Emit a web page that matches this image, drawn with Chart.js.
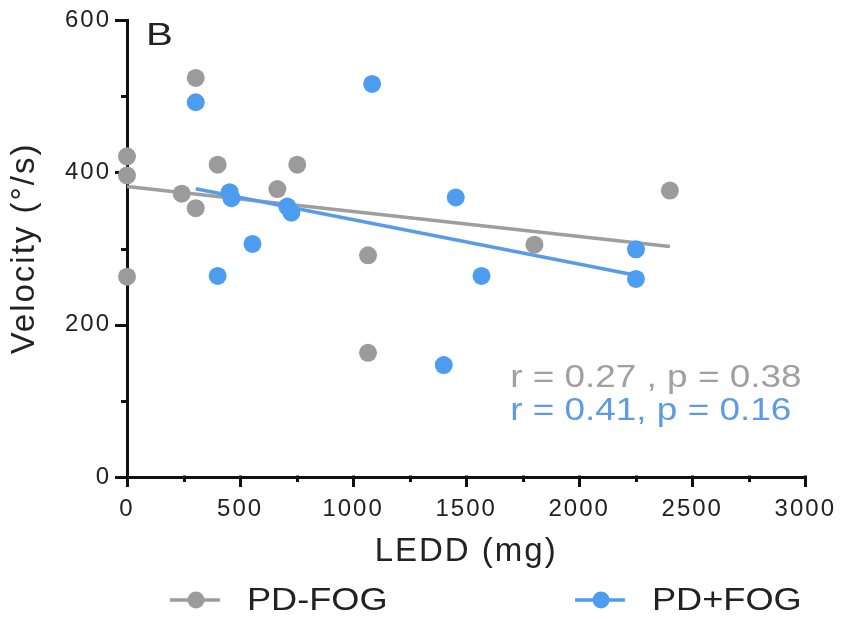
<!DOCTYPE html>
<html>
<head>
<meta charset="utf-8">
<script src="https://cdn.jsdelivr.net/npm/chart.js@4.4.0/dist/chart.umd.min.js"></script>
<style>
    html, body { margin: 0; padding: 0; background: #fff; }
</style>
</head>
<body>
<canvas id="myChart" width="844" height="619"></canvas>
<script>
// PD-FOG group: LEDD (mg) and velocity (°/s)
const pdNoFogLedd = [0, 0, 0, 242, 304, 304, 401, 665, 753, 1066, 1066, 1802, 2401];
const pdNoFogVel = [421, 396, 263, 372, 353, 524, 410, 378, 410, 291, 163, 305, 376];

// PD+FOG group
const pdFogLedd = [304, 1084, 454, 462, 555, 709, 727, 401, 1401, 1454, 1568, 2251, 2251];
const pdFogVel = [492, 516, 374, 366, 306, 355, 347, 264, 147, 367, 264, 299, 260];

// axis ticks (labelled ones), minor ticks sit halfway between
const xTickLabels = [0, 500, 1000, 1500, 2000, 2500, 3000];
const yTickLabels = [0, 200, 400, 600];

const seriesNames = ['PD-FOG', 'PD+FOG'];
const statTexts = ['r = 0.27 , p = 0.38', 'r = 0.41, p = 0.16'];

const GRAY = '#9b9b9b';
const BLUE = '#4c9df0';
const INK = '#222';
const FONT = "'Liberation Sans', Arial, sans-serif";

// least squares line over the range of the data
function fitLine(xs, ys) {
    const n = xs.length;
    const mx = xs.reduce((a, b) => a + b, 0) / n;
    const my = ys.reduce((a, b) => a + b, 0) / n;
    let sxy = 0, sxx = 0;
    for (let i = 0; i < n; i++) {
        sxy += (xs[i] - mx) * (ys[i] - my);
        sxx += (xs[i] - mx) * (xs[i] - mx);
    }
    const slope = sxy / sxx;
    const b = my - slope * mx;
    const x0 = Math.min(...xs), x1 = Math.max(...xs);
    return [{ x: x0, y: b + slope * x0 }, { x: x1, y: b + slope * x1 }];
}

function toPoints(xs, ys) {
    return xs.map((x, i) => ({ x: x, y: ys[i] }));
}

// text drawn a bit wider, like the original figure font
function wideText(ctx, text, x, y, sx) {
    ctx.save();
    ctx.translate(x, y);
    ctx.scale(sx, 1);
    ctx.fillText(text, 0, 0);
    ctx.restore();
}

// tick marks, stats text, panel letter and legend
const decor = {
    id: 'decor',
    beforeLayout(chart) { chart.ctx.letterSpacing = '2px'; },
    beforeDraw(chart) { chart.ctx.letterSpacing = '2px'; },
    beforeDatasetsDraw(chart) {
        const ctx = chart.ctx;
        const xs = chart.scales.x, ys = chart.scales.y;
        ctx.save();
        ctx.strokeStyle = '#111';
        ctx.lineWidth = 3;
        ys.ticks.forEach(t => {
            const py = Math.round(ys.getPixelForValue(t.value)) + 0.5;
            const len = yTickLabels.includes(t.value) ? 12 : 6;
            ctx.beginPath();
            ctx.moveTo(xs.left - len, py);
            ctx.lineTo(xs.left + 1.5, py);
            ctx.stroke();
        });
        xs.ticks.forEach(t => {
            const px = Math.round(xs.getPixelForValue(t.value)) + 0.5;
            const len = xTickLabels.includes(t.value) ? 10 : 5;
            ctx.beginPath();
            ctx.moveTo(px, ys.bottom - 1.5);
            ctx.lineTo(px, ys.bottom + len);
            ctx.stroke();
        });
        ctx.restore();
    },
    afterDraw(chart) {
        const ctx = chart.ctx;
        const xs = chart.scales.x, ys = chart.scales.y;
        ctx.save();
        ctx.textBaseline = 'alphabetic';
        ctx.textAlign = 'left';
        ctx.letterSpacing = '0px';

        // panel letter
        ctx.font = '31px ' + FONT;
        ctx.fillStyle = INK;
        wideText(ctx, 'B', 146, 45, 1.3);

        // correlation stats
        ctx.font = '31px ' + FONT;
        ctx.fillStyle = '#a0a0a0';
        wideText(ctx, statTexts[0], xs.getPixelForValue(1695), ys.getPixelForValue(118), 1.19);
        ctx.fillStyle = '#5d9be3';
        wideText(ctx, statTexts[1], xs.getPixelForValue(1695), ys.getPixelForValue(75), 1.19);

        // legend: line with a dot
        const items = [
            { x: 170, color: GRAY, text: seriesNames[0] },
            { x: 575, color: BLUE, text: seriesNames[1] }
        ];
        const ly = 600;
        items.forEach(it => {
            ctx.strokeStyle = it.color;
            ctx.lineWidth = 3.5;
            ctx.beginPath();
            ctx.moveTo(it.x, ly);
            ctx.lineTo(it.x + 50, ly);
            ctx.stroke();
            ctx.fillStyle = it.color;
            ctx.beginPath();
            ctx.arc(it.x + 26, ly, 8.5, 0, Math.PI * 2);
            ctx.fill();
            ctx.fillStyle = INK;
            ctx.font = '32px ' + FONT;
            ctx.textBaseline = 'middle';
            wideText(ctx, it.text, it.x + 77, ly + 1, 1.13);
        });
        ctx.restore();
    }
};

const ctx = document.getElementById('myChart').getContext('2d');
new Chart(ctx, {
    type: 'scatter',
    data: {
        datasets: [
            {
                label: seriesNames[1],
                data: toPoints(pdFogLedd, pdFogVel),
                backgroundColor: BLUE,
                borderWidth: 0,
                pointRadius: 9,
                clip: false,
                order: 0
            },
            {
                label: seriesNames[0],
                data: toPoints(pdNoFogLedd, pdNoFogVel),
                backgroundColor: GRAY,
                borderWidth: 0,
                pointRadius: 9,
                clip: false,
                order: 1
            },
            {
                label: seriesNames[1] + ' fit',
                data: fitLine(pdFogLedd, pdFogVel),
                showLine: true,
                borderColor: '#5a9be8',
                borderWidth: 3.5,
                pointRadius: 0,
                clip: false,
                order: 2
            },
            {
                label: seriesNames[0] + ' fit',
                data: fitLine(pdNoFogLedd, pdNoFogVel),
                showLine: true,
                borderColor: '#9e9e9e',
                borderWidth: 3.5,
                pointRadius: 0,
                clip: false,
                order: 3
            }
        ]
    },
    options: {
        responsive: false,
        animation: false,
        events: [],
        layout: {
            padding: { top: 20, right: 36, left: 0, bottom: 0 }
        },
        plugins: {
            legend: { display: false },
            tooltip: { enabled: false }
        },
        scales: {
            x: {
                type: 'linear',
                min: 0,
                max: 3000,
                afterFit: scale => { scale.height = 142; },
                border: { display: true, color: '#111', width: 3 },
                grid: {
                    display: true,
                    drawOnChartArea: false,
                    drawTicks: true,
                    tickLength: 10,
                    color: 'transparent'
                },
                ticks: {
                    stepSize: 250,
                    maxRotation: 0,
                    autoSkip: false,
                    padding: 8,
                    color: INK,
                    font: { size: 24, family: FONT },
                    callback: v => xTickLabels.includes(v) ? String(v) : ''
                },
                title: {
                    display: true,
                    text: 'LEDD (mg)',
                    color: INK,
                    font: { size: 33, family: FONT },
                    padding: { top: 0, bottom: 47 }
                }
            },
            y: {
                type: 'linear',
                min: 0,
                max: 600,
                afterFit: scale => { scale.width = 127; },
                border: { display: true, color: '#111', width: 3 },
                grid: {
                    display: true,
                    drawOnChartArea: false,
                    drawTicks: true,
                    tickLength: 12,
                    color: 'transparent'
                },
                ticks: {
                    stepSize: 100,
                    autoSkip: false,
                    padding: 4,
                    color: INK,
                    font: { size: 24, family: FONT },
                    callback: v => yTickLabels.includes(v) ? String(v) : ''
                },
                title: {
                    display: true,
                    text: 'Velocity (°/s)',
                    color: INK,
                    font: { size: 33, family: FONT },
                    padding: { top: 5, bottom: 0 }
                }
            }
        }
    },
    plugins: [decor]
});
</script>
</body>
</html>
